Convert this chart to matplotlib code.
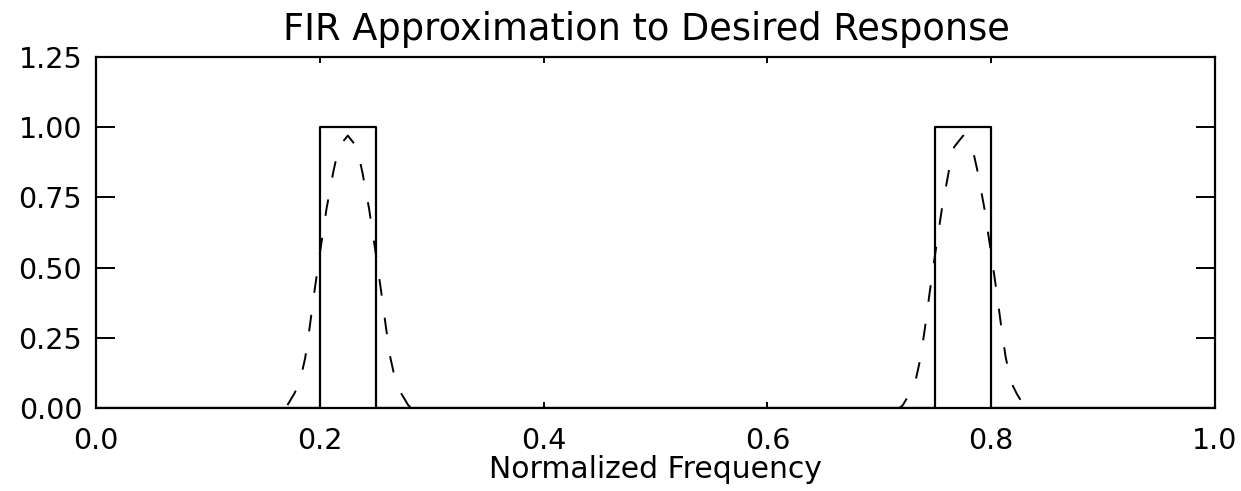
import matplotlib
matplotlib.use("Agg")
import matplotlib.pyplot as plt

plt.rcParams['font.family'] = ['DejaVu Sans']
plt.rcParams['lines.scale_dashes'] = False

# desired (ideal) band-pass response
desired_f = [0.0, 0.2, 0.2, 0.25, 0.25, 0.75, 0.75, 0.8, 0.8, 1.0]
desired_h = [0.0, 0.0, 1.0, 1.0, 0.0, 0.0, 1.0, 1.0, 0.0, 0.0]

# FIR approximation
fir_f = [0.0, 0.15, 0.165, 0.171, 0.177, 0.182, 0.187, 0.191, 0.195, 0.200,
         0.206, 0.212, 0.217, 0.225, 0.233, 0.238, 0.244, 0.250, 0.255,
         0.259, 0.263, 0.268, 0.273, 0.279, 0.285, 0.30, 0.5, 0.70, 0.715,
         0.721, 0.727, 0.732, 0.737, 0.741, 0.745, 0.750, 0.756, 0.762,
         0.767, 0.775, 0.783, 0.788, 0.794, 0.800, 0.805, 0.809, 0.813,
         0.818, 0.823, 0.829, 0.835, 0.85, 1.0]
fir_h = [-0.02, -0.03, -0.01, 0.01, 0.05, 0.09, 0.18, 0.29, 0.41, 0.55,
         0.71, 0.84, 0.93, 0.97, 0.93, 0.84, 0.71, 0.55, 0.41,
         0.29, 0.18, 0.09, 0.05, 0.01, -0.01, -0.03, -0.02, -0.03, -0.01,
         0.01, 0.05, 0.09, 0.18, 0.29, 0.41, 0.55, 0.71, 0.84,
         0.93, 0.97, 0.93, 0.84, 0.71, 0.55, 0.41, 0.29, 0.18,
         0.09, 0.05, 0.01, -0.01, -0.03, -0.02]

fig = plt.figure(figsize=(12.41, 4.91), dpi=100)
ax = fig.add_axes([0.0774, 0.169, 0.9016, 0.715])

ax.plot(desired_f, desired_h, color="black", lw=1.6)
ax.plot(fir_f, fir_h, color="black", lw=1.4, linestyle=(0, (12, 16)))

ax.set_xlim(0, 1)
ax.set_ylim(0, 1.25)
ax.set_xticks([0.0, 0.2, 0.4, 0.6, 0.8, 1.0])
ax.set_xticklabels(["0.0", "0.2", "0.4", "0.6", "0.8", "1.0"])
ax.set_yticks([0.0, 0.25, 0.5, 0.75, 1.0, 1.25])
ax.set_yticklabels(["0.00", "0.25", "0.50", "0.75", "1.00", "1.25"])

ax.tick_params(axis="x", direction="in", length=4.5, width=1.4, top=True,
               labelsize=20.5, pad=14)
ax.tick_params(axis="y", direction="in", length=14, width=1.4, right=True,
               labelsize=20.5, pad=10)
for s in ax.spines.values():
    s.set_linewidth(1.6)

ax.set_title("FIR Approximation to Desired Response", fontsize=26.5, pad=12,
             x=0.492)
ax.set_xlabel("Normalized Frequency", fontsize=21.5, labelpad=0)

fig.savefig("out.png", dpi=100)
